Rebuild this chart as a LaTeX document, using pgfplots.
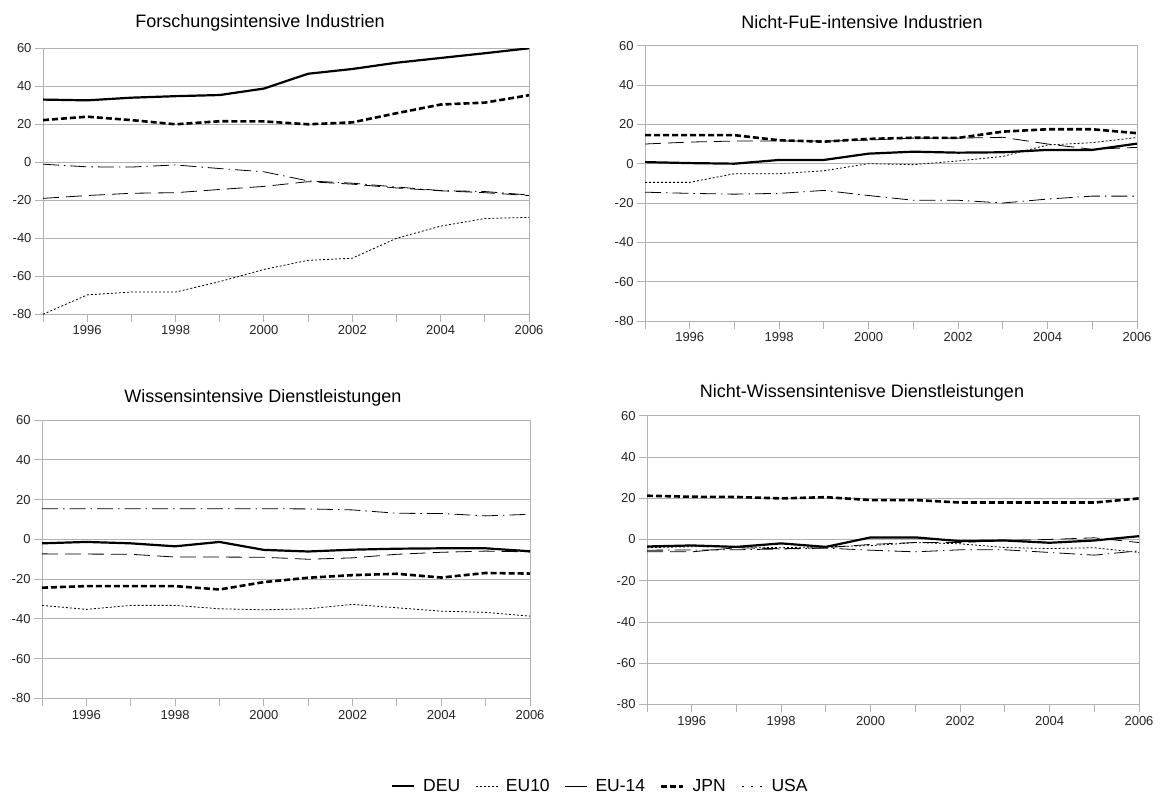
\documentclass[border=0pt]{standalone}
\usepackage{fontspec}
\setmainfont{Liberation Sans}
\usepackage{pgfplots}
\pgfplotsset{compat=1.18}
\pgfplotsset{
 panel/.style={
  scale only axis, anchor=south west,
  xmin=1995, xmax=2006, ymin=-80, ymax=60,
  xtick={1996,1998,...,2006},
  minor xtick={1995,1997,...,2005},
  ytick={-80,-60,...,60},
  tick pos=left,
  tick align=outside,
  major tick length=8pt, minor tick length=8pt,
  ymajorgrids, grid style={color=gray!60, line width=0.9pt},
  axis line style={gray!60, line width=0.9pt},
  tick style={gray!60, line width=0.9pt},
  tick label style={font=\fontsize{13}{15}\selectfont, text=black!85},
  /pgf/number format/1000 sep={},
  /pgf/number format/assume math mode=true,
 },
 deu/.style={black, line width=2.2pt, line join=round},
 eu10/.style={black, line width=0.8pt, dash pattern=on 2pt off 2pt},
 eu14/.style={black, line width=0.8pt, dash pattern=on 16pt off 7pt},
 jpn/.style={black, line width=2.6pt, dash pattern=on 6pt off 3pt},
 usa/.style={black, line width=0.8pt, dash pattern=on 16pt off 5pt on 1.5pt off 5pt},
}
\begin{document}
\begin{tikzpicture}
\useasboundingbox (0,0) rectangle (1165pt,797pt);
\fill[white] (0,0) rectangle (1165pt,797pt);

% Top left
\begin{axis}[panel, at={(43pt,482.7pt)}, width=486pt, height=266pt]
\addplot[eu14] coordinates {(1995,-19) (1996,-17.5) (1997,-16.3) (1998,-16) (1999,-14.3) (2000,-12.7) (2001,-10.2) (2002,-11.5) (2003,-13.5) (2004,-15) (2005,-16) (2006,-17.5)};
\addplot[usa] coordinates {(1995,-1) (1996,-2.4) (1997,-2.5) (1998,-1.4) (1999,-3.3) (2000,-5) (2001,-9.8) (2002,-11) (2003,-13) (2004,-14.9) (2005,-15.4) (2006,-17.2)};
\addplot[eu10] coordinates {(1995,-80) (1996,-69.8) (1997,-68.3) (1998,-68.3) (1999,-62.8) (2000,-56.4) (2001,-51.6) (2002,-50.5) (2003,-40) (2004,-33.6) (2005,-29.6) (2006,-29)};
\addplot[jpn] coordinates {(1995,22.2) (1996,24) (1997,22.2) (1998,20) (1999,21.6) (2000,21.5) (2001,20) (2002,21) (2003,25.8) (2004,30.4) (2005,31.4) (2006,35.3)};
\addplot[deu] coordinates {(1995,33) (1996,32.6) (1997,34) (1998,34.8) (1999,35.4) (2000,38.8) (2001,46.6) (2002,49.1) (2003,52.4) (2004,54.9) (2005,57.4) (2006,60)};
\end{axis}

% Top right
\begin{axis}[panel, at={(645pt,476pt)}, width=492pt, height=275.3pt]
\addplot[eu14] coordinates {(1995,10) (1996,11) (1997,11.5) (1998,11.6) (1999,11.5) (2000,12) (2001,13) (2002,13) (2003,13.4) (2004,10) (2005,7.3) (2006,8.3)};
\addplot[usa] coordinates {(1995,-14.5) (1996,-15.1) (1997,-15.5) (1998,-15.1) (1999,-13.6) (2000,-16.2) (2001,-18.6) (2002,-18.6) (2003,-20) (2004,-18) (2005,-16.5) (2006,-16.5)};
\addplot[eu10] coordinates {(1995,-9.5) (1996,-9.5) (1997,-5.1) (1998,-5.1) (1999,-3.6) (2000,0) (2001,-0.5) (2002,1.4) (2003,3.7) (2004,9.5) (2005,10.7) (2006,13.3)};
\addplot[jpn] coordinates {(1995,14.5) (1996,14.5) (1997,14.5) (1998,11.9) (1999,11.2) (2000,12.6) (2001,13.2) (2002,13.1) (2003,16.3) (2004,17.5) (2005,17.5) (2006,15.5)};
\addplot[deu] coordinates {(1995,0.8) (1996,0.3) (1997,0) (1998,1.9) (1999,1.9) (2000,5.1) (2001,6.1) (2002,5.6) (2003,5.8) (2004,7) (2005,7) (2006,10.2)};
\end{axis}

% Bottom left
\begin{axis}[panel, at={(42pt,98.5pt)}, width=488pt, height=278.5pt,
  legend columns=5,
  legend style={at={(1.143,-0.315)}, anchor=center, draw=none, fill=none,
    font=\fontsize{17.5}{19}\selectfont, inner sep=0pt,
    nodes={inner sep=1pt},
    /tikz/every odd column/.append style={column sep=7pt},
    /tikz/every even column/.append style={column sep=14pt}},
  legend image code/.code={\draw[#1] (0pt,0pt) -- (22pt,0pt);},
  legend cell align=left]
\addlegendimage{deu}
\addlegendentry{DEU}
\addlegendimage{eu10}
\addlegendentry{EU10}
\addlegendimage{black, line width=0.8pt}
\addlegendentry{EU-14}
\addlegendimage{jpn}
\addlegendentry{JPN}
\addlegendimage{black, line width=0.8pt, dash pattern=on 2pt off 7pt, dash phase=-1pt}
\addlegendentry{USA}
\addplot[deu, forget plot] coordinates {(1995,-2) (1996,-1.3) (1997,-2) (1998,-3.5) (1999,-1.3) (2000,-5.3) (2001,-6.1) (2002,-5.2) (2003,-4.7) (2004,-4.5) (2005,-4.5) (2006,-6)};
\addplot[eu10, forget plot] coordinates {(1995,-33.2) (1996,-35.2) (1997,-33.2) (1998,-33.2) (1999,-34.9) (2000,-35.4) (2001,-34.9) (2002,-32.7) (2003,-34.4) (2004,-36.1) (2005,-36.7) (2006,-38.6)};
\addplot[eu14, forget plot] coordinates {(1995,-7.3) (1996,-7.4) (1997,-7.5) (1998,-8.9) (1999,-8.9) (2000,-9) (2001,-10) (2002,-9.3) (2003,-7.5) (2004,-6.5) (2005,-5.9) (2006,-6.3)};
\addplot[jpn, forget plot] coordinates {(1995,-24.3) (1996,-23.5) (1997,-23.5) (1998,-23.5) (1999,-25.2) (2000,-21.5) (2001,-19.3) (2002,-18) (2003,-17.3) (2004,-19.2) (2005,-16.9) (2006,-17.2)};
\addplot[usa, forget plot] coordinates {(1995,15.4) (1996,15.4) (1997,15.4) (1998,15.4) (1999,15.4) (2000,15.4) (2001,15.3) (2002,14.8) (2003,13.1) (2004,13) (2005,11.8) (2006,12.6)};
\end{axis}

% Bottom right
\begin{axis}[panel, at={(647pt,92.5pt)}, width=492pt, height=288.8pt]
\addplot[usa] coordinates {(1995,-5.2) (1996,-5.1) (1997,-5) (1998,-4.6) (1999,-4.2) (2000,-5.2) (2001,-6) (2002,-5) (2003,-5) (2004,-6.3) (2005,-7.6) (2006,-5.5)};
\addplot[eu10] coordinates {(1995,-4) (1996,-3.5) (1997,-3.5) (1998,-4) (1999,-3.5) (2000,-3) (2001,-1.5) (2002,-2.1) (2003,-3.9) (2004,-4.4) (2005,-4) (2006,-6.3)};
\addplot[eu14] coordinates {(1995,-6) (1996,-6) (1997,-4) (1998,-4.5) (1999,-4) (2000,-2.4) (2001,-1.5) (2002,-1.5) (2003,-0.5) (2004,0) (2005,0.8) (2006,-1.5)};
\addplot[jpn] coordinates {(1995,21.2) (1996,20.7) (1997,20.6) (1998,19.9) (1999,20.5) (2000,19.1) (2001,19.1) (2002,17.9) (2003,17.9) (2004,17.9) (2005,17.9) (2006,19.9)};
\addplot[deu] coordinates {(1995,-3.4) (1996,-2.9) (1997,-3.6) (1998,-1.9) (1999,-3.6) (2000,1) (2001,1) (2002,-0.8) (2003,-0.5) (2004,-1.6) (2005,-0.5) (2006,1.6)};
\end{axis}

\node[anchor=base, font=\fontsize{18}{20}\selectfont] at (260pt,769pt) {Forschungsintensive Industrien};
\node[anchor=base, font=\fontsize{18}{20}\selectfont] at (862pt,768pt) {Nicht-FuE-intensive Industrien};
\node[anchor=base, font=\fontsize{18}{20}\selectfont] at (263pt,394.7pt) {Wissensintensive Dienstleistungen};
\node[anchor=base, font=\fontsize{18}{20}\selectfont] at (862pt,399.7pt) {Nicht-Wissensintenisve Dienstleistungen};
\end{tikzpicture}
\end{document}
